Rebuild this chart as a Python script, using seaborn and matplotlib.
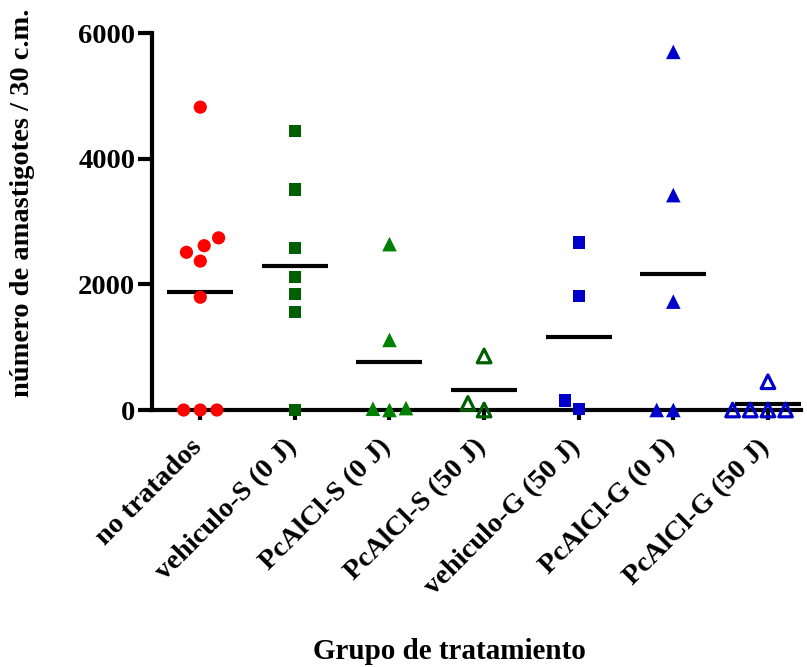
import numpy as np
import pandas as pd
import matplotlib
matplotlib.use('Agg')
import matplotlib.pyplot as plt
import matplotlib.transforms as mtransforms
import seaborn as sns

# groups and values
grupos = ['no tratados', 'vehiculo-S (0 J)', 'PcAlCl-S (0 J)', 'PcAlCl-S (50 J)',
          'vehiculo-G (50 J)', 'PcAlCl-G (0 J)', 'PcAlCl-G (50 J)']
no_tratados = [4820, 2740, 2615, 2510, 2370, 1795, 0, 0, 0]
vehiculo_s = [4445, 3510, 2575, 2120, 1850, 1555, 0]
pcalcl_s_0 = [2640, 1115, 30, 0, 20]
pcalcl_s_50 = [860, 105, 0]
vehiculo_g = [2665, 1820, 150, 10]
pcalcl_g_0 = [5700, 3420, 1725, 0, 0]
pcalcl_g_50 = [450, 0, 0, 0, 0]

valores = [no_tratados, vehiculo_s, pcalcl_s_0, pcalcl_s_50, vehiculo_g, pcalcl_g_0, pcalcl_g_50]
colores = ['#FF0000', '#005F00', '#008000', '#005F00', '#0000CC', '#0000CC', '#0000CC']
marcas = ['o', 's', '^', '^', 's', '^', '^']
rellenos = [True, True, True, False, True, True, False]

df = pd.DataFrame({
    'grupo': [g for g, v in zip(grupos, valores) for _ in v],
    'valor': [x for v in valores for x in v],
})

sns.set_style('ticks', {'axes.edgecolor': 'black', 'xtick.color': 'black',
                        'ytick.color': 'black', 'text.color': 'black',
                        'axes.labelcolor': 'black'})
plt.rcParams['font.family'] = ['Liberation Serif', 'DejaVu Serif']
plt.rcParams['font.weight'] = 'bold'

fig = plt.figure(figsize=(8.07, 6.67), dpi=100)
ax = fig.add_axes([0.1884, 0.3853, 0.8042, 0.5652])

for g, col, mk, fill in zip(grupos, colores, marcas, rellenos):
    sub = df[df['grupo'] == g]
    sz = 9.5 if mk == 'o' else (8.8 if mk == 's' else 10.5)
    if fill:
        # invisible edge only widens the swarm spacing a bit
        sns.swarmplot(data=sub, x='grupo', y='valor', order=grupos, ax=ax,
                      color=col, marker=mk, size=sz, edgecolor='none',
                      linewidth=11.4 - sz)
    else:
        sns.swarmplot(data=sub, x='grupo', y='valor', order=grupos, ax=ax,
                      color=col, marker=mk, size=9.8, facecolor='none',
                      edgecolor=col, linewidth=2.3)

# mean bars
sns.pointplot(data=df, x='grupo', y='valor', order=grupos, ax=ax,
              estimator='mean', errorbar=None, linestyle='none', marker='_',
              markersize=47, markeredgewidth=3, color='black')

for c in ax.collections:
    if len(c.get_offsets()) > 0:
        c.set_clip_on(False)
for l in ax.lines:
    l.set_clip_on(False)

ax.set_ylim(0, 6000)
ax.set_xlim(-0.51, 6.35)
ax.set_yticks([0, 2000, 4000, 6000])
sns.despine(ax=ax)
ax.spines['left'].set_linewidth(3)
ax.spines['bottom'].set_linewidth(3)
ax.tick_params(axis='both', width=3, labelsize=20.5, direction='out')
ax.tick_params(axis='y', pad=2, length=10)
ax.tick_params(axis='x', pad=17, length=7)
ax.set_xticks(range(len(grupos)))
ax.set_xticklabels(grupos, rotation=45, ha='right', va='center',
                   rotation_mode='anchor', fontweight='bold')
shift = mtransforms.ScaledTranslation(-0.02, 0, fig.dpi_scale_trans)
for t in ax.get_xticklabels():
    t.set_transform(t.get_transform() + shift)
for t in ax.get_yticklabels():
    t.set_fontweight('bold')

ax.set_xlabel('Grupo de tratamiento', fontsize=21, fontweight='bold')
ax.set_ylabel('número de amastigotes / 30 c.m.', fontsize=20.5, fontweight='bold')
ax.xaxis.set_label_coords(0.459, -0.605)
ax.yaxis.set_label_coords(-0.18, 0.55)

fig.savefig('out.png', dpi=100)
